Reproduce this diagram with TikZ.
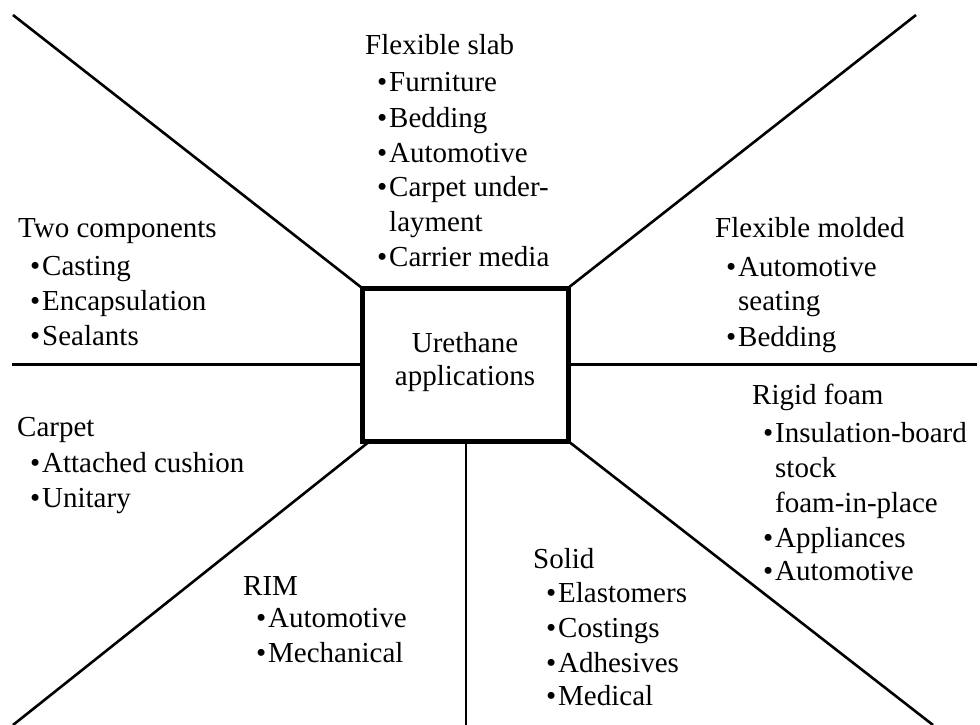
\documentclass[tikz,border=0pt]{standalone}
\usepackage{fontspec}
\setmainfont{Liberation Serif}
\newcommand\fs{\fontsize{29}{33}\selectfont}
\newcommand\bit[1]{\llap{\textbullet\hspace{2pt}}#1}
\begin{document}
\begin{tikzpicture}[x=1pt,y=-1pt,
  spoke/.style={line width=2.6pt},
  hub/.style={draw, line width=5pt, outer sep=0pt, inner sep=0pt,
              minimum width=206pt, minimum height=153pt},
  txt/.style={font=\fs, inner sep=0pt, anchor=base west},
  ctr/.style={font=\fs, inner sep=0pt, anchor=base}]
\useasboundingbox (0,0) rectangle (980,725);
\fill[white] (0,0) rectangle (980,725);

% central box
\node[hub] (box) at (465,364.5) {};
\node[ctr] (u1) at (465,352) {Urethane};
\node[ctr] (u2) at (465,385) {applications};

% spoke outer ends
\coordinate (ul) at (13,15);
\coordinate (ur) at (916,15);
\coordinate (lh) at (12,364.5);
\coordinate (rh) at (977,364.5);
\coordinate (ll) at (13,725);
\coordinate (vv) at (466,725);
\coordinate (lr) at (933,725);
\coordinate (llb) at ([xshift=8pt]box.south west);
\coordinate (vvb) at ([xshift=1pt]box.south);

\draw[spoke] (ul) -- (box.north west);
\draw[spoke] (ur) -- (box.north east);
\draw[spoke] (lh) -- (box.west);
\draw[spoke] (rh) -- (box.east);
\draw[spoke] (ll) -- (llb);
\draw[spoke] (vv) -- (vvb);
\draw[spoke] (lr) -- (box.south east);

% Flexible slab
\node[txt] (fs0) at (365,55) {Flexible slab};
\node[txt] (fs1) at (389,92) {\bit{Furniture}};
\node[txt] (fs2) at (389,127) {\bit{Bedding}};
\node[txt] (fs3) at (389,162) {\bit{Automotive}};
\node[txt] (fs4) at (389,196) {\bit{Carpet under-}};
\node[txt] (fs5) at (389,231) {layment};
\node[txt] (fs6) at (389,266) {\bit{Carrier media}};

% Two components
\node[txt] (tc0) at (18,237) {Two components};
\node[txt] (tc1) at (42,275) {\bit{Casting}};
\node[txt] (tc2) at (42,310) {\bit{Encapsulation}};
\node[txt] (tc3) at (42,345) {\bit{Sealants}};

% Flexible molded
\node[txt] (fm0) at (715,237) {Flexible molded};
\node[txt] (fm1) at (738,276) {\bit{Automotive}};
\node[txt] (fm2) at (738,310) {seating};
\node[txt] (fm3) at (738,346) {\bit{Bedding}};

% Carpet
\node[txt] (ca0) at (17,436) {Carpet};
\node[txt] (ca1) at (42,472) {\bit{Attached cushion}};
\node[txt] (ca2) at (42,507) {\bit{Unitary}};

% Rigid foam
\node[txt] (rf0) at (752,404) {Rigid foam};
\node[txt] (rf1) at (775,442) {\bit{Insulation-board}};
\node[txt] (rf2) at (775,477) {stock};
\node[txt] (rf3) at (775,512) {foam-in-place};
\node[txt] (rf4) at (775,547) {\bit{Appliances}};
\node[txt] (rf5) at (775,580) {\bit{Automotive}};

% RIM
\node[txt] (ri0) at (243,595) {RIM};
\node[txt] (ri1) at (268,627) {\bit{Automotive}};
\node[txt] (ri2) at (268,662) {\bit{Mechanical}};

% Solid
\node[txt] (so0) at (533,568) {Solid};
\node[txt] (so1) at (558,602) {\bit{Elastomers}};
\node[txt] (so2) at (558,637) {\bit{Costings}};
\node[txt] (so3) at (558,672) {\bit{Adhesives}};
\node[txt] (so4) at (558,705) {\bit{Medical}};
\end{tikzpicture}
\end{document}
